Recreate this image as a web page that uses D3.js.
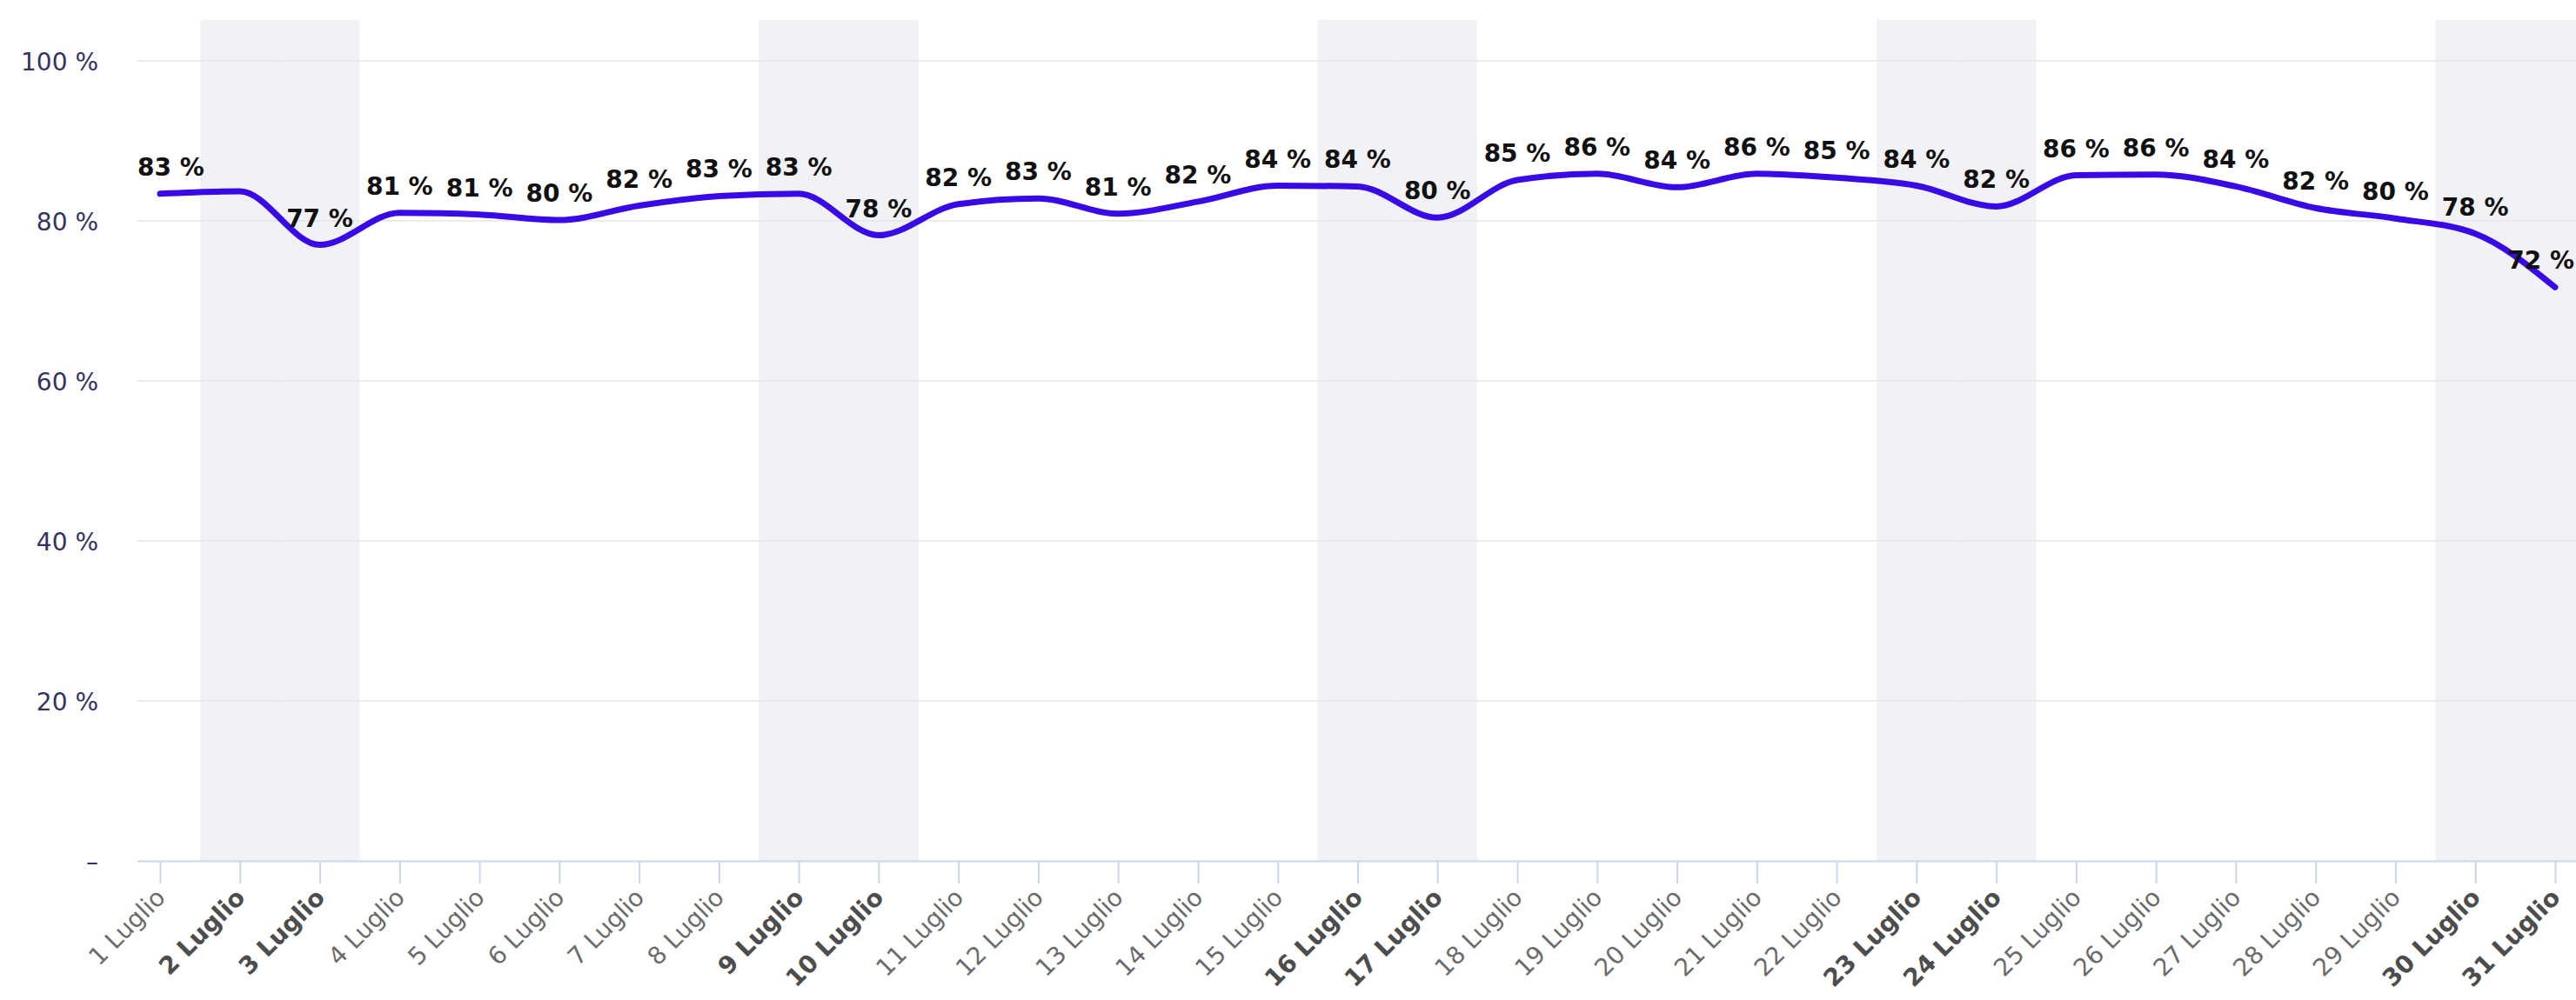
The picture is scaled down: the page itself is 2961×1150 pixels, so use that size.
<!DOCTYPE html>
<html>
<head>
<meta charset="utf-8">
<script src="https://cdn.jsdelivr.net/npm/d3@7"></script>
<style>
  html, body { margin: 0; padding: 0; background: #ffffff; }
  svg { display: block; font-family: "DejaVu Sans", Verdana, sans-serif; }
</style>
</head>
<body>
<svg id="chart" width="2961" height="1150"></svg>
<script>
// ---- data ----
const categories = ["1 Luglio","2 Luglio","3 Luglio","4 Luglio","5 Luglio","6 Luglio","7 Luglio","8 Luglio","9 Luglio","10 Luglio",
  "11 Luglio","12 Luglio","13 Luglio","14 Luglio","15 Luglio","16 Luglio","17 Luglio","18 Luglio","19 Luglio","20 Luglio",
  "21 Luglio","22 Luglio","23 Luglio","24 Luglio","25 Luglio","26 Luglio","27 Luglio","28 Luglio","29 Luglio","30 Luglio","31 Luglio"];
const values = [83.4, 83.7, 77.0, 81.0, 80.8, 80.1, 81.9, 83.1, 83.4, 78.2,
  82.1, 82.8, 80.9, 82.4, 84.4, 84.3, 80.4, 85.1, 85.9, 84.2,
  85.9, 85.4, 84.4, 81.8, 85.7, 85.8, 84.3, 81.6, 80.3, 78.4, 71.7];
const weekendDays = ["2 Luglio","3 Luglio","9 Luglio","10 Luglio","16 Luglio","17 Luglio","23 Luglio","24 Luglio","30 Luglio","31 Luglio"];
const hiddenLabels = ["2 Luglio"];
const yTickValues = [0, 20, 40, 60, 80, 100];
const yTickLabels = ["–", "20 %", "40 %", "60 %", "80 %", "100 %"];

// ---- layout ----
const W = 2961, H = 1150;
const plot = { left: 158, top: 23, right: 2961, bottom: 990 };
const FONT = 28;

const svg = d3.select("#chart");

const x = d3.scalePoint().domain(categories).range([184, 2937]);
const step = x.step();
const y = d3.scaleLinear().domain([0, 100]).range([plot.bottom, 70]);

// clip for plot area
svg.append("defs").append("clipPath").attr("id", "plotClip")
  .append("rect").attr("x", plot.left).attr("y", plot.top)
  .attr("width", plot.right - plot.left).attr("height", plot.bottom - plot.top);

// weekend bands
svg.append("g").attr("clip-path", "url(#plotClip)")
  .selectAll("rect").data(weekendDays).join("rect")
  .attr("x", d => x(d) - step / 2)
  .attr("y", plot.top)
  .attr("width", step)
  .attr("height", plot.bottom - plot.top)
  .attr("fill", "#f1f2f5");

// gridlines
svg.append("g").selectAll("line").data(yTickValues.filter(v => v > 0)).join("line")
  .attr("x1", plot.left).attr("x2", plot.right)
  .attr("y1", d => y(d)).attr("y2", d => y(d))
  .attr("stroke", "#e6e6e6").attr("stroke-width", 1.5);

// y axis labels
const yAxis = d3.axisLeft(y).tickValues(yTickValues)
  .tickFormat((d, i) => yTickLabels[i]).tickSize(0).tickPadding(0);
const gy = svg.append("g").attr("transform", "translate(113,0)").call(yAxis);
gy.select(".domain").remove();
gy.selectAll("text")
  .attr("font-size", FONT).attr("font-family", "DejaVu Sans, sans-serif")
  .attr("fill", "#33335e").attr("dy", "0.36em");

// x axis
const xAxis = d3.axisBottom(x).tickSize(26).tickSizeOuter(0).tickPadding(0);
const gx = svg.append("g").attr("transform", `translate(0,${plot.bottom})`).call(xAxis);
gx.select(".domain").attr("d", `M${plot.left},0.5H${plot.right}`)
  .attr("stroke", "#ccd6eb").attr("stroke-width", 2);
gx.selectAll(".tick line").attr("stroke", "#ccd6eb").attr("stroke-width", 2);
gx.selectAll(".tick text")
  .attr("font-size", FONT).attr("font-family", "DejaVu Sans, sans-serif")
  .attr("text-anchor", "end")
  .attr("font-weight", d => weekendDays.includes(d) ? "bold" : "normal")
  .attr("fill", d => weekendDays.includes(d) ? "#4d4d4d" : "#6b6b6b")
  .attr("y", 0).attr("dy", 0)
  .attr("transform", "translate(7,44) rotate(-45)");

// line
const line = d3.line()
  .x((d, i) => x(categories[i]))
  .y(d => y(d))
  .curve(d3.curveMonotoneX);
svg.append("path").datum(values)
  .attr("d", line)
  .attr("fill", "none")
  .attr("stroke", "#3a0ae6")
  .attr("stroke-width", 7)
  .attr("stroke-linejoin", "round")
  .attr("stroke-linecap", "round");

// data labels
const lg = svg.append("g");
values.forEach((v, i) => {
  const c = categories[i];
  if (hiddenLabels.includes(c)) return;
  const t = lg.append("text")
    .attr("font-size", FONT).attr("font-weight", "bold")
    .attr("font-family", "DejaVu Sans, sans-serif")
    .attr("fill", "#111")
    .attr("text-anchor", "middle")
    .attr("y", y(v) - 21)
    .text(Math.round(v) + " %");
  const w = t.node().getComputedTextLength();
  let cx = x(c);
  if (cx - w / 2 < plot.left) cx = plot.left + w / 2;
  if (cx + w / 2 > plot.right - 2) cx = plot.right - 2 - w / 2;
  t.attr("x", cx);
});
</script>
</body>
</html>
